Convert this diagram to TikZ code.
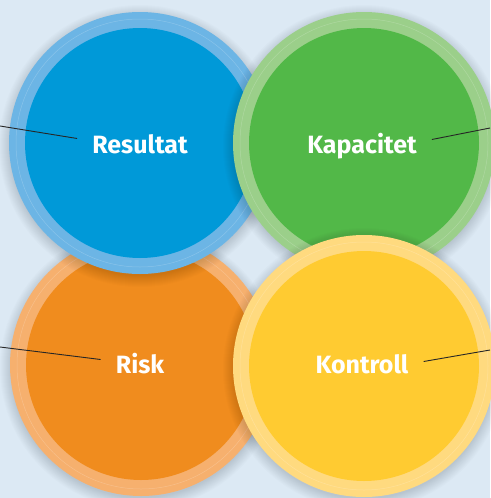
\documentclass[tikz,border=0pt]{standalone}
\usepackage{fontspec}
\setmainfont{Fira Sans}
\definecolor{bgpaper}{HTML}{DCE9F4}
\definecolor{blueCore}{HTML}{0099D8}
\definecolor{blueRing}{HTML}{6CB5E5}
\definecolor{greenCore}{HTML}{52B848}
\definecolor{greenRing}{HTML}{9BCF8A}
\definecolor{orangeCore}{HTML}{F08C1E}
\definecolor{orangeRing}{HTML}{F6B06E}
\definecolor{yellowCore}{HTML}{FFCB31}
\definecolor{yellowRing}{HTML}{FFDA7F}
\tikzset{
    ringdisc/.style={fill=#1},
    ringline/.style={draw=white, draw opacity=0.2, line width=0.5pt},
    coredisc/.style={fill=#1},
    softshade/.style={fill=black, fill opacity=0.012},
    circlabel/.style={text=white, font=\bfseries\fontsize{25}{30}\selectfont,
        inner xsep=15pt, inner ysep=0pt, text height=19pt, text depth=0pt, anchor=base},
    leader/.style={draw=black!85, line width=0.9pt}
}
% soft shadow under a disc at (x,y)
\newcommand{\discshadow}[2]{%
    \foreach \s in {1,...,12}
        \fill[softshade] (#1,#2+3) circle[radius=129pt+\s pt];
}
\begin{document}
\begin{tikzpicture}[x=1pt,y=-1pt]
        % Draw paper background
        \fill[bgpaper] (0,0) rectangle (490,498);
        \useasboundingbox (0,0) rectangle (490,498);
        % Draw orange circle
        \discshadow{141}{365}
        \fill[ringdisc=orangeRing] (141,365) circle[radius=131pt];
        \draw[ringline] (141,365) circle[radius=124pt];
        \fill[coredisc=orangeCore] (141,365) circle[radius=115pt];
        % Draw blue circle
        \discshadow{140}{143}
        \fill[ringdisc=blueRing] (140,143) circle[radius=131pt];
        \draw[ringline] (140,143) circle[radius=124pt];
        \fill[coredisc=blueCore] (140,143) circle[radius=115pt];
        % Draw green circle
        \discshadow{364}{143}
        \fill[ringdisc=greenRing] (364,143) circle[radius=131pt];
        \draw[ringline] (364,143) circle[radius=124pt];
        \fill[coredisc=greenCore] (364,143) circle[radius=115pt];
        % Draw yellow circle
        \discshadow{364}{366}
        \fill[ringdisc=yellowRing] (364,366) circle[radius=131pt];
        \draw[ringline] (364,366) circle[radius=124pt];
        \fill[coredisc=yellowCore] (364,366) circle[radius=115pt];
        % Draw labels
        \node[circlabel] (resultat) at (140,153) {Resultat};
        \node[circlabel] (kapacitet) at (362,153) {Kapacitet};
        \node[circlabel] (risk) at (140,373) {Risk};
        \node[circlabel] (kontroll) at (362,373) {Kontroll};
        % Draw leader lines to the edges
        \coordinate (resultatEnd) at (0,126);
        \coordinate (kapacitetEnd) at (490,128);
        \coordinate (riskEnd) at (0,347);
        \coordinate (kontrollEnd) at (490,350);
        \draw[leader] ([yshift=5pt]resultat.west) -- (resultatEnd);
        \draw[leader] ([yshift=4pt]kapacitet.east) -- (kapacitetEnd);
        \draw[leader] ([yshift=4pt]risk.west) -- (riskEnd);
        \draw[leader] ([yshift=2pt]kontroll.east) -- (kontrollEnd);
\end{tikzpicture}
\end{document}
